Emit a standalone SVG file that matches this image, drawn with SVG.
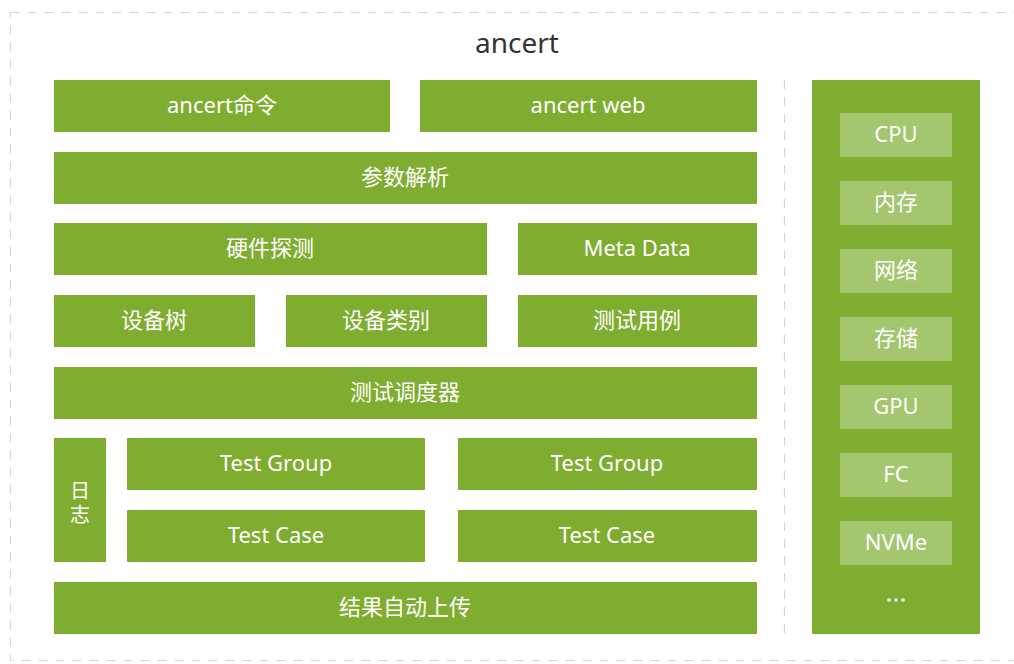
<svg xmlns="http://www.w3.org/2000/svg" width="1014" height="664" viewBox="0 0 1014 664">
<style>
.b{fill:#7fad2f}
.s{fill:#a3c66f}
.t{fill:#ffffff;font-family:"Noto Sans","Noto Sans CJK SC",sans-serif;font-size:22px;text-anchor:middle;dominant-baseline:central}
.v{fill:#ffffff;font-family:"Noto Sans CJK SC","Noto Sans",sans-serif;font-size:20px;text-anchor:middle;dominant-baseline:central}
.title{fill:#333333;font-family:"Noto Sans","Noto Sans CJK SC",sans-serif;font-size:28px;text-anchor:middle;dominant-baseline:central}
</style>
<rect width="1014" height="664" fill="#ffffff"/>
<rect x="10.5" y="12.5" width="1012" height="648" fill="none" stroke="#d3dcc4" stroke-width="1.2" stroke-dasharray="9 8"/>
<line x1="784.5" y1="80" x2="784.5" y2="634" stroke="#d6d6d0" stroke-width="1.2" stroke-dasharray="9 8"/>
<text class="title" x="517" y="42">ancert</text>
<g id="cmd"><rect class="b" x="54" y="80" width="336" height="52"/><text class="t" x="222" y="104">ancert命令</text></g>
<g id="web"><rect class="b" x="420" y="80" width="337" height="52"/><text class="t" x="588" y="104">ancert web</text></g>
<g id="parse"><rect class="b" x="54" y="152" width="703" height="52"/><text class="t" x="405" y="176">参数解析</text></g>
<g id="hw"><rect class="b" x="54" y="223" width="433" height="52"/><text class="t" x="270" y="247">硬件探测</text></g>
<g id="meta"><rect class="b" x="518" y="223" width="239" height="52"/><text class="t" x="637" y="247">Meta Data</text></g>
<g id="tree"><rect class="b" x="54" y="295" width="201" height="52"/><text class="t" x="154" y="319">设备树</text></g>
<g id="cat"><rect class="b" x="286" y="295" width="201" height="52"/><text class="t" x="386" y="319">设备类别</text></g>
<g id="tc"><rect class="b" x="518" y="295" width="239" height="52"/><text class="t" x="637" y="319">测试用例</text></g>
<g id="sched"><rect class="b" x="54" y="367" width="703" height="52"/><text class="t" x="405" y="391">测试调度器</text></g>
<g id="log"><rect class="b" x="54" y="438" width="52" height="124"/><text class="v" x="80" y="489">日</text><text class="v" x="80" y="513">志</text></g>
<g id="tg1"><rect class="b" x="127" y="438" width="298" height="52"/><text class="t" x="276" y="462">Test Group</text></g>
<g id="tg2"><rect class="b" x="458" y="438" width="299" height="52"/><text class="t" x="607" y="462">Test Group</text></g>
<g id="tcase1"><rect class="b" x="127" y="510" width="298" height="52"/><text class="t" x="276" y="534">Test Case</text></g>
<g id="tcase2"><rect class="b" x="458" y="510" width="299" height="52"/><text class="t" x="607" y="534">Test Case</text></g>
<g id="upload"><rect class="b" x="54" y="582" width="703" height="52"/><text class="t" x="405" y="606">结果自动上传</text></g>
<g id="panel"><rect class="b" x="812" y="80" width="168" height="554"/></g>
<g id="cpu"><rect class="s" x="840" y="113" width="112" height="44"/><text class="t" x="896" y="133">CPU</text></g>
<g id="mem"><rect class="s" x="840" y="181" width="112" height="44"/><text class="t" x="896" y="201">内存</text></g>
<g id="net"><rect class="s" x="840" y="249" width="112" height="44"/><text class="t" x="896" y="269">网络</text></g>
<g id="stor"><rect class="s" x="840" y="317" width="112" height="44"/><text class="t" x="896" y="337">存储</text></g>
<g id="gpu"><rect class="s" x="840" y="385" width="112" height="44"/><text class="t" x="896" y="405">GPU</text></g>
<g id="fc"><rect class="s" x="840" y="453" width="112" height="44"/><text class="t" x="896" y="473">FC</text></g>
<g id="nvme"><rect class="s" x="840" y="521" width="112" height="44"/><text class="t" x="896" y="541">NVMe</text></g>
<g id="more"><circle cx="889" cy="600" r="1.8" fill="#ffffff"/><circle cx="896" cy="600" r="1.8" fill="#ffffff"/><circle cx="903" cy="600" r="1.8" fill="#ffffff"/></g>
</svg>
